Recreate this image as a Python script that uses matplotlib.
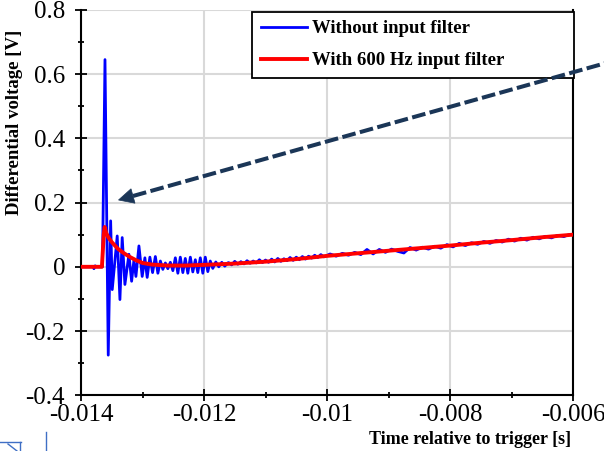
import matplotlib
matplotlib.use("Agg")
import matplotlib.pyplot as plt
from matplotlib.lines import Line2D
from matplotlib.patches import Polygon

plt.rcParams['font.family'] = ['Liberation Serif', 'DejaVu Serif']

# ---------------- data ----------------
x_ticks = [-0.014, -0.012, -0.010, -0.008, -0.006]
x_tick_labels = ["-0.014", "-0.012", "-0.01", "-0.008", "-0.006"]
y_ticks = [-0.4, -0.2, 0.0, 0.2, 0.4, 0.6, 0.8]
y_tick_labels = ["-0.4", "-0.2", "0", "0.2", "0.4", "0.6", "0.8"]

series_names = ["Without input filter", "With 600 Hz input filter"]

t_blue = [
    -0.01400, -0.01380, -0.01379, -0.01377, -0.01375, -0.01366, -0.013651,
    -0.013610, -0.013557, -0.013518, -0.013492, -0.013411, -0.013367,
    -0.013330, -0.013286, -0.013221, -0.013177, -0.013140, -0.013107,
    -0.013058, -0.013005, -0.012961, -0.012924, -0.012880, -0.012836,
    -0.012791, -0.012750, -0.012709, -0.012669, -0.012628, -0.012588,
    -0.012547, -0.012506, -0.012466, -0.012425, -0.012385, -0.012344,
    -0.012304, -0.012263, -0.012222, -0.012182, -0.012141, -0.012101,
    -0.012060, -0.012019, -0.011979, -0.011938, -0.011898, -0.011857,
    -0.011808, -0.011760, -0.011711, -0.011662, -0.011614,
    -0.01160, -0.01155, -0.01150, -0.01145, -0.01140, -0.01135, -0.01130,
    -0.01125, -0.01120, -0.01115, -0.01110, -0.01105, -0.01100, -0.01095,
    -0.01090, -0.01085, -0.01080, -0.01075, -0.01070, -0.01065, -0.01060,
    -0.01055, -0.01050, -0.01045, -0.01040, -0.01035, -0.01030, -0.01025,
    -0.01020, -0.01015, -0.01010, -0.01005,
    -0.00995, -0.00985, -0.00975, -0.00965, -0.00955, -0.00945, -0.00935,
    -0.00925, -0.00915, -0.00905, -0.00895, -0.00885, -0.00875, -0.00865,
    -0.00855, -0.00845, -0.00835, -0.00825, -0.00815, -0.00805, -0.00795,
    -0.00785, -0.00775, -0.00765, -0.00755, -0.00745, -0.00735, -0.00725,
    -0.00715, -0.00705, -0.00695, -0.00685, -0.00675, -0.00665, -0.00655,
    -0.00645, -0.00635, -0.00625, -0.00615, -0.00605, -0.00600,
]
v_blue = [
    0.000, 0.000, -0.006, 0.003, 0.000, 0.000, 0.000,
    0.645, -0.275, 0.143, -0.071, 0.096, -0.102,
    0.091, -0.055, 0.039, -0.045, 0.020, -0.030,
    0.065, -0.030, 0.028, -0.033, 0.030, -0.018,
    0.032, -0.020, 0.018, -0.008, 0.012, -0.006,
    0.014, -0.012, 0.028, -0.020, 0.030, -0.018,
    0.026, -0.020, 0.030, -0.016, 0.022, -0.018,
    0.028, -0.020, 0.030, -0.015, 0.018, -0.005,
    0.015, 0.000, 0.014, 0.002, 0.012,
    0.013, 0.006, 0.017, 0.008, 0.016, 0.009, 0.019,
    0.011, 0.018, 0.012, 0.022, 0.013, 0.021, 0.014,
    0.024, 0.015, 0.026, 0.017, 0.025, 0.019, 0.029,
    0.020, 0.030, 0.022, 0.032, 0.024, 0.033, 0.027,
    0.036, 0.029, 0.038, 0.031,
    0.040, 0.033, 0.042, 0.036, 0.045, 0.038, 0.054,
    0.040, 0.054, 0.045, 0.055, 0.048, 0.043, 0.060,
    0.052, 0.061, 0.055, 0.064, 0.058, 0.069, 0.062,
    0.073, 0.066, 0.075, 0.070, 0.079, 0.073, 0.082,
    0.077, 0.086, 0.080, 0.089, 0.083, 0.092, 0.087,
    0.095, 0.090, 0.098, 0.094, 0.101, 0.100,
]

t_red = [
    -0.01400, -0.01366, -0.01363, -0.013615, -0.01359, -0.01355, -0.01350,
    -0.01340, -0.01330, -0.01320, -0.01310, -0.01300, -0.01285, -0.01260,
    -0.01230, -0.01200, -0.01150, -0.01100, -0.01050, -0.01000, -0.00950,
    -0.00900, -0.00850, -0.00800, -0.00750, -0.00700, -0.00650, -0.00600,
]
v_red = [
    0.000, 0.000, 0.100, 0.124, 0.105, 0.090, 0.077,
    0.056, 0.042, 0.030, 0.020, 0.012, 0.007, 0.004,
    0.004, 0.006, 0.010, 0.016, 0.024, 0.034, 0.042,
    0.050, 0.058, 0.066, 0.075, 0.083, 0.092, 0.100,
]

# ---------------- figure ----------------
W, H = 604, 451
fig = plt.figure(figsize=(W / 100, H / 100), dpi=100)
L, R, T, B = 81, 573, 9.8, 395.3
ax = fig.add_axes([L / W, 1 - B / H, (R - L) / W, (B - T) / H])

ax.plot(t_blue, v_blue, color='#0000ff', lw=2.0, label=series_names[0], zorder=3,
        solid_joinstyle='round')
ax.plot(t_red, v_red, color='#ff0000', lw=2.8, label=series_names[1], zorder=4,
        solid_joinstyle='round')

ax.set_xlim(-0.014, -0.006)
ax.set_ylim(-0.4, 0.8)
ax.set_xticks(x_ticks)
ax.set_xticklabels(x_tick_labels)
ax.set_yticks(y_ticks)
ax.set_yticklabels(y_tick_labels)
ax.set_xticks([-0.013, -0.011, -0.009, -0.007], minor=True)
ax.set_yticks([-0.3, -0.1, 0.1, 0.3, 0.5, 0.7], minor=True)

ax.grid(True, which='major', color='#d9d9d9', lw=1.5, zorder=0)
ax.set_axisbelow(True)
ax.tick_params(which='major', direction='inout', length=8, width=1.3,
               labelsize=18, color='black')
ax.tick_params(which='minor', direction='inout', length=4, width=1.3, color='black')
ax.tick_params(axis='y', which='both', pad=7.5, right=False)
ax.tick_params(axis='x', which='both', pad=2.5, top=False)

for s in ['left', 'bottom', 'right']:
    ax.spines[s].set_linewidth(1.5)
    ax.spines[s].set_color('black')
ax.spines['top'].set_visible(False)

leg = ax.legend(loc='upper left', bbox_to_anchor=(0.348, 0.995, 0.655, 0.0),
                mode='expand', fancybox=False, framealpha=1, edgecolor='black',
                prop={'weight': 'bold', 'size': 13.5}, handlelength=2.45,
                handletextpad=0.3, labelspacing=0.8, borderpad=0.45,
                borderaxespad=0.0)
leg.get_frame().set_linewidth(1.3)
leg.set_zorder(10)

fig.text(571 / W, 1 - 440 / H, "Time relative to trigger [s]", ha='right', va='center',
         fontsize=13, fontweight='bold')
fig.text(15 / W, 1 - 122 / H, "Differential voltage [V]", ha='center', va='center',
         rotation=90, fontsize=13.5, fontweight='bold')

# dashed arrow (annotation)
navy = '#1b3657'
tip = (118.5, 200.0)
base = (133.0, 196.0)
tail = (606.0, 63.0)
fig.add_artist(Line2D([base[0] / W, tail[0] / W], [1 - base[1] / H, 1 - tail[1] / H],
                      transform=fig.transFigure, color=navy, lw=2.9,
                      dashes=(3.4, 1.1), solid_capstyle='butt', dash_capstyle='butt',
                      zorder=20))
head = [(tip[0], tip[1]), (base[0] + 2.0, base[1] + 7.2), (base[0] - 2.0, base[1] - 7.2)]
fig.add_artist(Polygon([(px / W, 1 - py / H) for px, py in head], closed=True,
                       transform=fig.transFigure, facecolor=navy, edgecolor=navy,
                       lw=0.5, zorder=21))

# cropped fragments at lower-left corner
frag = '#3f6fc5'
for xs, ys in [([0, 21], [442, 442]), ([20, 20], [442, 451]), ([8, 17], [444, 451]),
               ([46, 46], [432, 451])]:
    fig.add_artist(Line2D([x / W for x in xs], [1 - y / H for y in ys],
                          transform=fig.transFigure, color=frag, lw=1.0))

fig.savefig('out.png', dpi=100)
